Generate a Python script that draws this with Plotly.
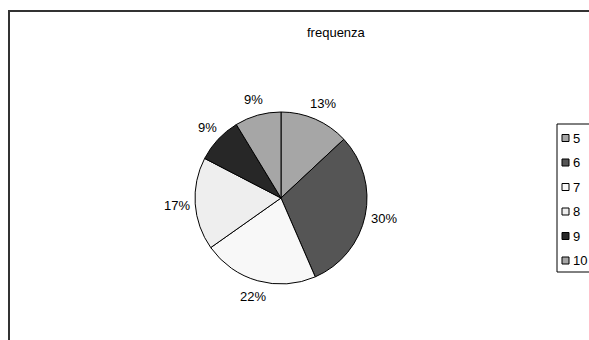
import math
import plotly.graph_objects as go

# Frequency of each grade
categories = ["5", "6", "7", "8", "9", "10"]
counts = [3, 7, 5, 4, 2, 2]
colors = ["#a6a6a6", "#555555", "#f8f8f8", "#eeeeee", "#272727", "#a6a6a6"]
title_text = "frequenza"

W, H = 589, 340
FONT = "Arial, Liberation Sans, sans-serif"


def px(x):
    return x / W


def py(y):
    return 1 - y / H


# Pie geometry in pixels
cx, cy, r = 281, 198, 86

fig = go.Figure()
fig.add_trace(go.Pie(
    labels=categories,
    values=counts,
    sort=False,
    direction="clockwise",
    rotation=0,
    textinfo="none",
    hoverinfo="label+value+percent",
    marker=dict(colors=colors, line=dict(color="#000000", width=1)),
    domain=dict(x=[px(cx - r), px(cx + r)], y=[py(cy + r), py(cy - r)]),
    showlegend=False,
))

annotations = []
shapes = []

# Percentage labels outside each slice, placed along the slice's mid-angle
total = sum(counts)
cum = 0
font_size = 13
for v in counts:
    mid = (cum + v / 2) / total * 2 * math.pi
    cum += v
    txt = f"{round(v / total * 100)}%"
    hw = len(txt) * font_size * 0.3
    hh = font_size * 0.75
    dx, dy = math.sin(mid), -math.cos(mid)
    gap = 7
    lx = cx + (r + gap) * dx + hw * dx
    ly = cy + (r + gap) * dy + hh * dy
    annotations.append(dict(
        x=px(lx), y=py(ly), xref="paper", yref="paper",
        text=txt, showarrow=False, xanchor="center", yanchor="middle",
        font=dict(family=FONT, size=font_size, color="#000000"),
    ))

# Title
annotations.append(dict(
    x=px(336), y=py(33), xref="paper", yref="paper", text=title_text,
    showarrow=False, xanchor="center", yanchor="middle",
    font=dict(family=FONT, size=13, color="#000000"),
))

# Chart area frame
shapes.append(dict(
    type="rect", xref="paper", yref="paper",
    x0=px(9), x1=px(700), y0=py(11), y1=py(420),
    line=dict(color="#333333", width=2), fillcolor="rgba(0,0,0,0)",
))

# Legend box and entries
leg_top, leg_step, leg_first = 124, 24.5, 138
shapes.append(dict(
    type="rect", xref="paper", yref="paper",
    x0=px(557), x1=px(640), y0=py(leg_top), y1=py(272),
    line=dict(color="#000000", width=1), fillcolor="#ffffff",
))
for i, (cat, col) in enumerate(zip(categories, colors)):
    yc = leg_first + i * leg_step
    shapes.append(dict(
        type="rect", xref="paper", yref="paper",
        x0=px(562), x1=px(569), y0=py(yc + 3.5), y1=py(yc - 3.5),
        line=dict(color="#000000", width=1), fillcolor=col,
    ))
    annotations.append(dict(
        x=px(571), y=py(yc), xref="paper", yref="paper", text=cat,
        showarrow=False, xanchor="left", yanchor="middle",
        font=dict(family=FONT, size=13, color="#000000"),
    ))

fig.update_layout(
    width=W, height=H,
    margin=dict(l=0, r=0, t=0, b=0),
    paper_bgcolor="#ffffff", plot_bgcolor="#ffffff",
    annotations=annotations, shapes=shapes,
    showlegend=False,
)

fig.write_html("out.html")
